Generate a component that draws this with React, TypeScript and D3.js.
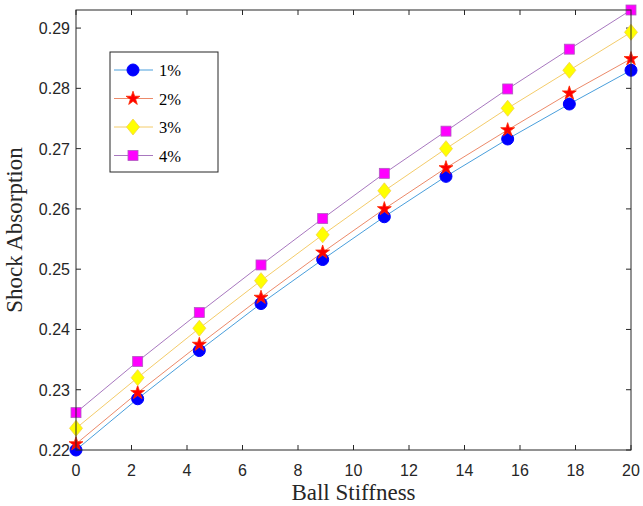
import React from "react";
import * as d3 from "d3";

const stiffness = [0, 2.222, 4.444, 6.667, 8.889, 11.111, 13.333, 15.556, 17.778, 20];
const s1 = [0.2200, 0.2285, 0.2365, 0.2443, 0.2516, 0.2587, 0.2654, 0.2716, 0.2774, 0.2830];
const s2 = [0.2210, 0.2295, 0.2375, 0.2453, 0.2528, 0.2600, 0.2668, 0.2731, 0.2792, 0.2849];
const s3 = [0.2236, 0.2320, 0.2402, 0.2481, 0.2557, 0.2630, 0.2700, 0.2767, 0.2830, 0.2893];
const s4 = [0.2262, 0.2347, 0.2428, 0.2507, 0.2584, 0.2659, 0.2729, 0.2799, 0.2865, 0.2930];
const seriesNames = ["1%", "2%", "3%", "4%"];
const xTicks = [0, 2, 4, 6, 8, 10, 12, 14, 16, 18, 20];
const yTicks = [0.22, 0.23, 0.24, 0.25, 0.26, 0.27, 0.28, 0.29];

const styles = [
  { line: "#4a9fdc", fill: "#0000ff", stroke: "#0000ff", shape: "circle" },
  { line: "#ec8a6a", fill: "#ff0000", stroke: "#ff2a00", shape: "star" },
  { line: "#f4cc6a", fill: "#ffff00", stroke: "#f2d24a", shape: "diamond" },
  { line: "#a878bf", fill: "#ff00ff", stroke: "#b05cc0", shape: "square" },
];

function Marker({ x, y, shape, fill, stroke }: any) {
  if (shape === "circle") return <circle cx={x} cy={y} r={6} fill={fill} stroke={stroke} />;
  if (shape === "star") {
    const p = d3.symbol().type(d3.symbolStar).size(60)();
    return <path d={p || ""} transform={`translate(${x},${y})`} fill={fill} stroke={stroke} strokeWidth={0.8} />;
  }
  if (shape === "diamond") {
    const h = 8, w = 6.5;
    return <path d={`M${x},${y - h}L${x + w},${y}L${x},${y + h}L${x - w},${y}Z`} fill={fill} stroke={stroke} strokeWidth={0.8} />;
  }
  return <rect x={x - 5} y={y - 5} width={10} height={10} fill={fill} stroke={stroke} strokeWidth={0.8} />;
}

export default function App() {
  const W = 643, H = 506;
  const L = 76, R = 631, T = 10, B = 450;
  const x = d3.scaleLinear().domain([0, 20]).range([L, R]);
  const y = d3.scaleLinear().domain([0.22, 0.293]).range([B, T]);
  const series = [s1, s2, s3, s4];
  const line = d3.line<number>().x((_, i) => x(stiffness[i])).y((d) => y(d));
  const axisColor = "#262626";
  const tickLen = 5;
  return (
    <svg width={W} height={H} style={{ position: "absolute", left: 0, top: 0, background: "#fff" }}>
      {xTicks.map((t) => (
        <g key={"x" + t}>
          <line x1={x(t)} x2={x(t)} y1={B} y2={B - tickLen} stroke={axisColor} strokeWidth={1} />
          <line x1={x(t)} x2={x(t)} y1={T} y2={T + tickLen} stroke={axisColor} strokeWidth={1} />
          <text x={x(t)} y={476} textAnchor="middle" fontFamily="Liberation Sans, Arial, sans-serif" fontSize={16} fill={axisColor}>{t}</text>
        </g>
      ))}
      {yTicks.map((t) => (
        <g key={"y" + t}>
          <line x1={L} x2={L + tickLen} y1={y(t)} y2={y(t)} stroke={axisColor} strokeWidth={1} />
          <line x1={R} x2={R - tickLen} y1={y(t)} y2={y(t)} stroke={axisColor} strokeWidth={1} />
          <text x={L - 6} y={y(t) + 6} textAnchor="end" fontFamily="Liberation Sans, Arial, sans-serif" fontSize={16} fill={axisColor}>{t.toFixed(2)}</text>
        </g>
      ))}
      {series.map((s, k) => (
        <path key={"l" + k} d={line(s) || ""} fill="none" stroke={styles[k].line} strokeWidth={1} />
      ))}
      {series.map((s, k) => (
        <g key={"m" + k}>
          {s.map((v, i) => (
            <Marker key={i} x={x(stiffness[i])} y={y(v)} {...styles[k]} />
          ))}
        </g>
      ))}
      <rect x={L} y={T} width={R - L} height={B - T} fill="none" stroke={axisColor} strokeWidth={1} />
      <rect x={110} y={52} width={108} height={120} fill="#fff" stroke={axisColor} strokeWidth={1} />
      {seriesNames.map((n, k) => {
        const ly = 70 + k * 28.5;
        return (
          <g key={"lg" + k}>
            <line x1={114} x2={153} y1={ly} y2={ly} stroke={styles[k].line} strokeWidth={1} />
            <Marker x={133} y={ly} {...styles[k]} />
            <text x={159} y={ly + 6} fontFamily="Liberation Serif, Times New Roman, serif" fontSize={16.5} fill="#000">{n}</text>
          </g>
        );
      })}
      <text x={(L + R) / 2} y={500} textAnchor="middle" fontFamily="Liberation Serif, Times New Roman, serif" fontSize={23} fill={axisColor}>Ball Stiffness</text>
      <text transform={`translate(22,${(T + B) / 2}) rotate(-90)`} textAnchor="middle" fontFamily="Liberation Serif, Times New Roman, serif" fontSize={23} fill={axisColor}>Shock Absorption</text>
    </svg>
  );
}
